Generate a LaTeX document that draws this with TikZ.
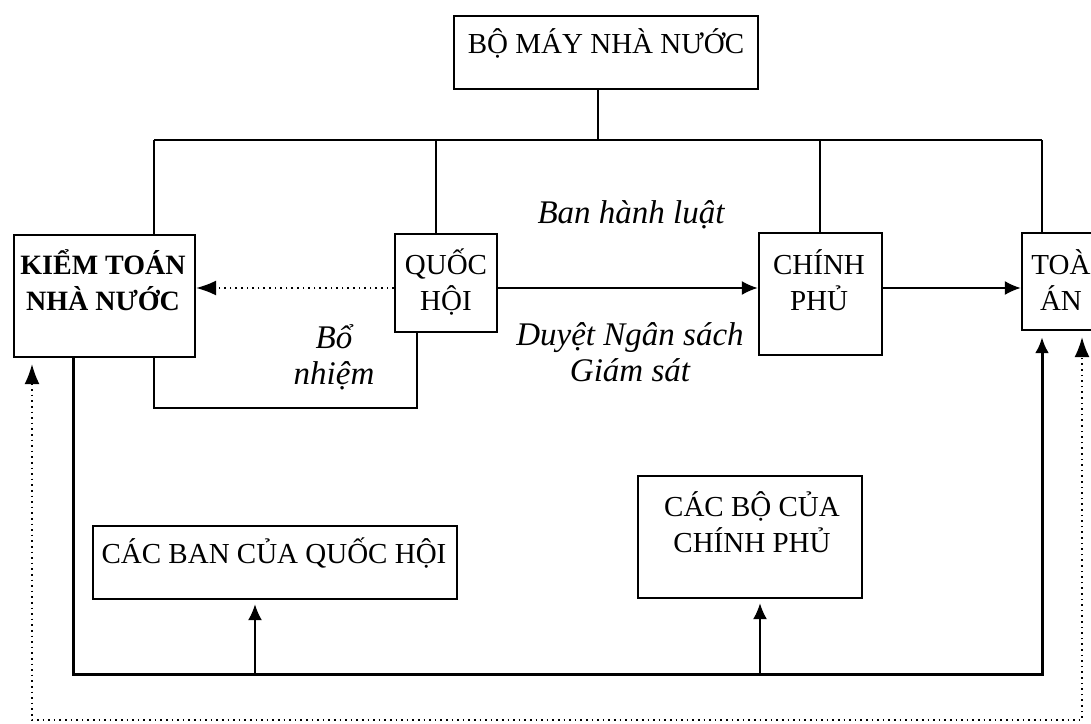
\documentclass[tikz,border=0pt]{standalone}
\usepackage{fontspec}
\setmainfont{Liberation Serif}
\usetikzlibrary{arrows.meta,positioning,fit}

\tikzset{
  organ/.style={draw,line width=1.2pt,inner sep=0pt},
  organtext/.style={font=\fontsize{14.5}{18}\selectfont,align=center,inner sep=0pt},
  role/.style={font=\fontsize{16.5}{18}\selectfont\itshape,align=center,inner sep=0pt},
  link/.style={line width=0.9pt},
  bus/.style={line width=1.5pt},
  tip/.style={-{Latex[length=8pt,width=7pt]}},
  dotlink/.style={line width=0.7pt,dash pattern=on 0.8pt off 2pt},
}

\begin{document}
\begin{tikzpicture}[x=0.5pt,y=-0.5pt]
\useasboundingbox (0,0) rectangle (1091,723);
\clip (0,0) rectangle (1091,723);
% organs of the state
\node[organ,fit={(454,16) (758,89)}] (bm) {};
\node[organ,fit={(14,235) (195,357)}] (kt) {};
\node[organ,fit={(395,234) (497,332)}] (qh) {};
\node[organ,fit={(759,233) (882,355)}] (cp) {};
\node[organ,fit={(1022,233) (1110,330)}] (ta) {};
\node[organ,fit={(93,526) (457,599)}] (cb) {};
\node[organ,fit={(638,476) (862,598)}] (bo) {};
% box texts
\node[organtext] (bm t) at (606,43) {BỘ MÁY NHÀ NƯỚC};
\node[organtext,font=\fontsize{14}{18}\selectfont\bfseries] (kt t) at (103,280) {KIỂM TOÁN\\NHÀ NƯỚC};
\node[organtext] (qh t) at (446,282) {QUỐC\\HỘI};
\node[organtext] (cp t) at (819,280) {CHÍNH\\PHỦ};
\node[organtext,anchor=west] (ta t) at (1031,280) {TOÀ\\ÁN};
\node[organtext] (cb t) at (274,553) {CÁC BAN CỦA QUỐC HỘI};
\node[organtext] (bo t) at (752,522) {CÁC BỘ CỦA\\CHÍNH PHỦ};
% italic roles
\node[role] (law) at (631,215) {Ban hành luật};
\node[role] (budget) at (630,352) {Duyệt Ngân sách\\Giám sát};
\node[role] (appoint) at (334,357) {Bổ\\nhiệm};
% tree from the top box
\coordinate (bar top) at (598,140);
\coordinate (bar kt) at (154,140);
\coordinate (bar qh) at (436,140);
\coordinate (bar cp) at (820,140);
\coordinate (bar ta) at (1042,140);
\draw[link] (bm.south -| bar top) -- (bar top);
\draw[link] (bar kt) -- (bar ta);
\foreach \n in {kt,qh,cp,ta}{
  \draw[link] (bar \n) -- (bar \n |- \n.north);
}
% horizontal arrows
\coordinate (mid) at (0,288);
\draw[dotlink,-{Latex[length=10pt,width=7.5pt]}] (qh.west |- mid) -- (kt.east |- mid);
\draw[link,tip] (qh.east |- mid) -- (cp.west |- mid);
\draw[link,tip] (cp.east |- mid) -- (ta.west |- mid);
% appointment line
\coordinate (bn1) at (417,408);
\coordinate (bn2) at (154,408);
\draw[link] (qh.south -| bn1) -- (bn1) -- (bn2) -- (bn2 |- kt.south);
% bus at the bottom
\coordinate (bus l) at (73,674);
\coordinate (bus r) at (1042,674);
\coordinate (j1) at (255,674);
\coordinate (j2) at (760,674);
\draw[bus,tip,shorten >=3pt] (kt.south -| bus l) -- (bus l) -- (bus r) -- (ta.south -| bus r);
\draw[link,tip,shorten >=2pt] (j1) -- (j1 |- cb.south);
\draw[link,tip,shorten >=2pt] (j2) -- (j2 |- bo.south);
% dotted loop
\coordinate (d l) at (32,720);
\coordinate (d r) at (1082,720);
\draw[dotlink,{Latex[length=10pt,width=7.5pt]}-{Latex[length=10pt,width=7.5pt]},shorten <=3pt,shorten >=3pt] (kt.south -| d l) -- (d l) -- (d r) -- (ta.south -| d r);
\end{tikzpicture}
\end{document}
